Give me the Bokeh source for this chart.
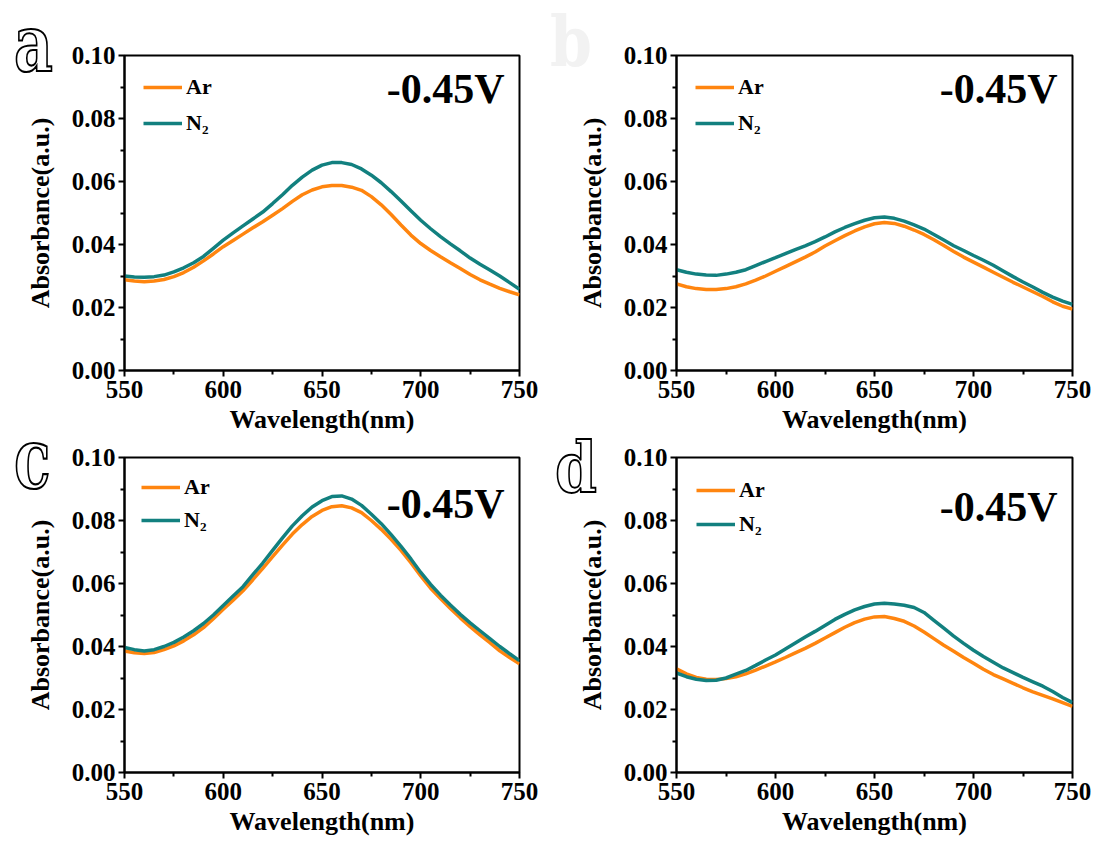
from bokeh.plotting import figure
from bokeh.models import Range1d, Label, Legend, LegendItem, NumeralTickFormatter, FixedTicker, Div
from bokeh.layouts import column, row
from bokeh.embed import file_html
from bokeh.resources import INLINE

# ---------------- data ----------------
wavelength = list(range(550, 755, 5))

a_ar = [0.0288, 0.0284, 0.0282, 0.0284, 0.0289, 0.0298, 0.0311, 0.0328, 0.0348, 0.0370,
        0.0393, 0.0413, 0.0433, 0.0453, 0.0472, 0.0493, 0.0514, 0.0537, 0.0558, 0.0573,
        0.0583, 0.0587, 0.0587, 0.0582, 0.0572, 0.0552, 0.0526, 0.0495, 0.0462, 0.0430,
        0.0403, 0.0381, 0.0361, 0.0342, 0.0324, 0.0305, 0.0288, 0.0274, 0.0261, 0.0250, 0.0240]
a_n2 = [0.0300, 0.0297, 0.0296, 0.0298, 0.0303, 0.0313, 0.0326, 0.0342, 0.0362, 0.0388,
        0.0414, 0.0437, 0.0459, 0.0481, 0.0503, 0.0530, 0.0558, 0.0588, 0.0614, 0.0636,
        0.0652, 0.0660, 0.0660, 0.0654, 0.0640, 0.0620, 0.0596, 0.0568, 0.0538, 0.0507,
        0.0477, 0.0450, 0.0425, 0.0402, 0.0380, 0.0357, 0.0337, 0.0319, 0.0300, 0.0279, 0.0258]

b_ar = [0.0275, 0.0266, 0.0260, 0.0257, 0.0257, 0.0260, 0.0266, 0.0275, 0.0287, 0.0300,
        0.0315, 0.0330, 0.0345, 0.0360, 0.0376, 0.0395, 0.0412, 0.0428, 0.0443, 0.0456,
        0.0466, 0.0470, 0.0467, 0.0458, 0.0446, 0.0432, 0.0415, 0.0397, 0.0378, 0.0360,
        0.0344, 0.0328, 0.0312, 0.0296, 0.0280, 0.0265, 0.0250, 0.0235, 0.0218, 0.0204, 0.0195]
b_n2 = [0.0320, 0.0312, 0.0306, 0.0303, 0.0302, 0.0306, 0.0312, 0.0320, 0.0333, 0.0346,
        0.0358, 0.0371, 0.0384, 0.0396, 0.0409, 0.0424, 0.0440, 0.0454, 0.0466, 0.0477,
        0.0485, 0.0487, 0.0483, 0.0474, 0.0462, 0.0449, 0.0432, 0.0414, 0.0396, 0.0381,
        0.0365, 0.0350, 0.0334, 0.0316, 0.0298, 0.0281, 0.0265, 0.0248, 0.0233, 0.0220, 0.0210]

c_ar = [0.0386, 0.0380, 0.0378, 0.0381, 0.0390, 0.0402, 0.0418, 0.0437, 0.0460, 0.0488,
        0.0518, 0.0547, 0.0577, 0.0612, 0.0648, 0.0685, 0.0722, 0.0757, 0.0787, 0.0813,
        0.0832, 0.0844, 0.0847, 0.0840, 0.0825, 0.0800, 0.0772, 0.0740, 0.0705, 0.0666,
        0.0624, 0.0585, 0.0552, 0.0521, 0.0491, 0.0463, 0.0437, 0.0412, 0.0386, 0.0365, 0.0345]
c_n2 = [0.0397, 0.0390, 0.0386, 0.0390, 0.0400, 0.0413, 0.0430, 0.0450, 0.0473, 0.0500,
        0.0530, 0.0560, 0.0590, 0.0628, 0.0665, 0.0705, 0.0745, 0.0783, 0.0815, 0.0843,
        0.0863, 0.0876, 0.0878, 0.0868, 0.0848, 0.0820, 0.0790, 0.0755, 0.0718, 0.0678,
        0.0635, 0.0597, 0.0563, 0.0532, 0.0502, 0.0475, 0.0450, 0.0425, 0.0400, 0.0377, 0.0355]

d_ar = [0.0329, 0.0313, 0.0302, 0.0296, 0.0295, 0.0298, 0.0304, 0.0313, 0.0325, 0.0338,
        0.0351, 0.0365, 0.0380, 0.0394, 0.0410, 0.0427, 0.0444, 0.0461, 0.0476, 0.0487,
        0.0494, 0.0495, 0.0489, 0.0480, 0.0465, 0.0446, 0.0425, 0.0404, 0.0385, 0.0365,
        0.0347, 0.0328, 0.0311, 0.0297, 0.0283, 0.0269, 0.0256, 0.0245, 0.0234, 0.0222, 0.0210]
d_n2 = [0.0316, 0.0304, 0.0296, 0.0292, 0.0293, 0.0300, 0.0312, 0.0324, 0.0340, 0.0357,
        0.0373, 0.0392, 0.0411, 0.0430, 0.0448, 0.0467, 0.0486, 0.0502, 0.0516, 0.0527,
        0.0535, 0.0537, 0.0535, 0.0531, 0.0524, 0.0508, 0.0483, 0.0458, 0.0433, 0.0410,
        0.0388, 0.0368, 0.0350, 0.0332, 0.0317, 0.0302, 0.0288, 0.0274, 0.0257, 0.0238, 0.0222]

x_ticks = [550, 600, 650, 700, 750]
x_minor = [575, 625, 675, 725]
y_ticks = [0.00, 0.02, 0.04, 0.06, 0.08, 0.10]
y_minor = [0.01, 0.03, 0.05, 0.07, 0.09]

series_labels = ["Ar", "N\u2082"]
voltage_text = "-0.45V"
x_title = "Wavelength(nm)"
y_title = "Absorbance(a.u.)"
panel_letters = ["a", "b", "c", "d"]

AR_COLOR = "#FF850F"
N2_COLOR = "#12807F"
FONT = "Liberation Serif"

X0, X1 = 550, 750
Y0, Y1 = 0.0, 0.1


def make_panel(ar, n2, bl, br, bt, bb, fw, fh, volt_y, legend_margin, legend_spacing,
               tick_standoff, label_standoff):
    p = figure(width=bl + fw + br, height=bt + fh + bb, frame_width=fw, frame_height=fh,
               min_border_left=bl, min_border_right=br, min_border_top=bt, min_border_bottom=bb,
               x_range=Range1d(X0, X1), y_range=Range1d(Y0, Y1),
               output_backend="svg", toolbar_location=None)
    p.background_fill_color = "white"
    p.border_fill_color = "white"
    p.grid.visible = False
    p.outline_line_color = "black"
    p.outline_line_width = 2
    p.outline_line_alpha = 1

    r1 = p.line(wavelength, ar, line_color=AR_COLOR, line_width=3.5)
    r2 = p.line(wavelength, n2, line_color=N2_COLOR, line_width=3.5)

    for ax in (p.xaxis[0], p.yaxis[0]):
        ax.axis_line_width = 2
        ax.major_tick_line_width = 2
        ax.minor_tick_line_width = 2
        ax.major_tick_in = 0
        ax.major_tick_out = 6
        ax.minor_tick_in = 0
        ax.minor_tick_out = 4
        ax.major_label_text_font = FONT
        ax.major_label_text_font_style = "bold"
        ax.major_label_text_font_size = "25px"
        ax.major_label_text_color = "black"
        ax.axis_label_text_font = FONT
        ax.axis_label_text_font_style = "bold"
        ax.axis_label_text_font_size = "26px"
        ax.axis_label_text_color = "black"
    p.xaxis[0].ticker = FixedTicker(ticks=x_ticks, minor_ticks=x_minor)
    p.yaxis[0].ticker = FixedTicker(ticks=y_ticks, minor_ticks=y_minor)
    p.yaxis[0].formatter = NumeralTickFormatter(format="0.00")
    p.xaxis[0].axis_label = x_title
    p.yaxis[0].axis_label = y_title
    p.xaxis[0].major_label_standoff = tick_standoff
    p.xaxis[0].axis_label_standoff = label_standoff
    p.yaxis[0].major_label_standoff = 3
    p.yaxis[0].axis_label_standoff = 14

    legend = Legend(items=[LegendItem(label=series_labels[0], renderers=[r1]),
                           LegendItem(label=series_labels[1], renderers=[r2])],
                    location="top_left")
    legend.border_line_color = None
    legend.background_fill_alpha = 0
    legend.label_text_font = FONT
    legend.label_text_font_style = "bold"
    legend.label_text_font_size = "22px"
    legend.label_text_color = "black"
    legend.glyph_width = 39
    legend.glyph_height = 26
    legend.label_height = 26
    legend.spacing = legend_spacing
    legend.margin = legend_margin
    legend.padding = 0
    legend.label_standoff = 4
    p.add_layout(legend)

    def dx(px):
        return X0 + (px - bl) / fw * (X1 - X0)

    def dy(py):
        return Y1 - (py - bt) / fh * (Y1 - Y0)

    p.add_layout(Label(x=dx(bl + fw - 15), y=dy(volt_y), text=voltage_text,
                       text_align="right", text_baseline="middle",
                       text_font=FONT, text_font_style="bold", text_font_size="42px",
                       text_color="black"))
    return p


def letter_div(ch, left, top, color, stroke, scale_y):
    st = {"position": "absolute", "left": f"{left}px", "top": f"{top}px",
          "font-family": "DejaVu Serif", "font-weight": "bold", "font-size": "60px",
          "line-height": "1", "color": color, "transform": f"scale(1, {scale_y})",
          "transform-origin": "top left", "z-index": "10"}
    if stroke:
        st["-webkit-text-stroke"] = "1.6px black"
    return Div(text=ch, width=60, height=60, styles=st)


# row 1: 55 + 315 + 71 = 441 ; row 2: 16 + 315 + 71 = 402  -> 843
pa = make_panel(a_ar, a_n2, 124, 29, 55, 71, 395, 315, 88, 19, 10, 4, 4)
pb = make_panel(b_ar, b_n2, 128, 25, 55, 71, 396, 315, 88, 19, 10, 4, 4)
pc = make_panel(c_ar, c_n2, 124, 29, 16, 71, 395, 315, 62, 17, 7, 4, 4)
pd = make_panel(d_ar, d_n2, 128, 25, 16, 71, 396, 315, 65, 20, 8, 4, 4)

da = letter_div(panel_letters[0], 9, 0, "white", True, 1.3)
db = letter_div(panel_letters[1], 545, 2, "#f2f2f2", False, 1.15)
dc = letter_div(panel_letters[2], 9, 412, "white", True, 1.4)
dd = letter_div(panel_letters[3], 550, 428, "white", True, 1.15)

layout = column(row(pa, pb), row(pc, pd), da, db, dc, dd)
open("out.html", "w").write(file_html(layout, INLINE))
